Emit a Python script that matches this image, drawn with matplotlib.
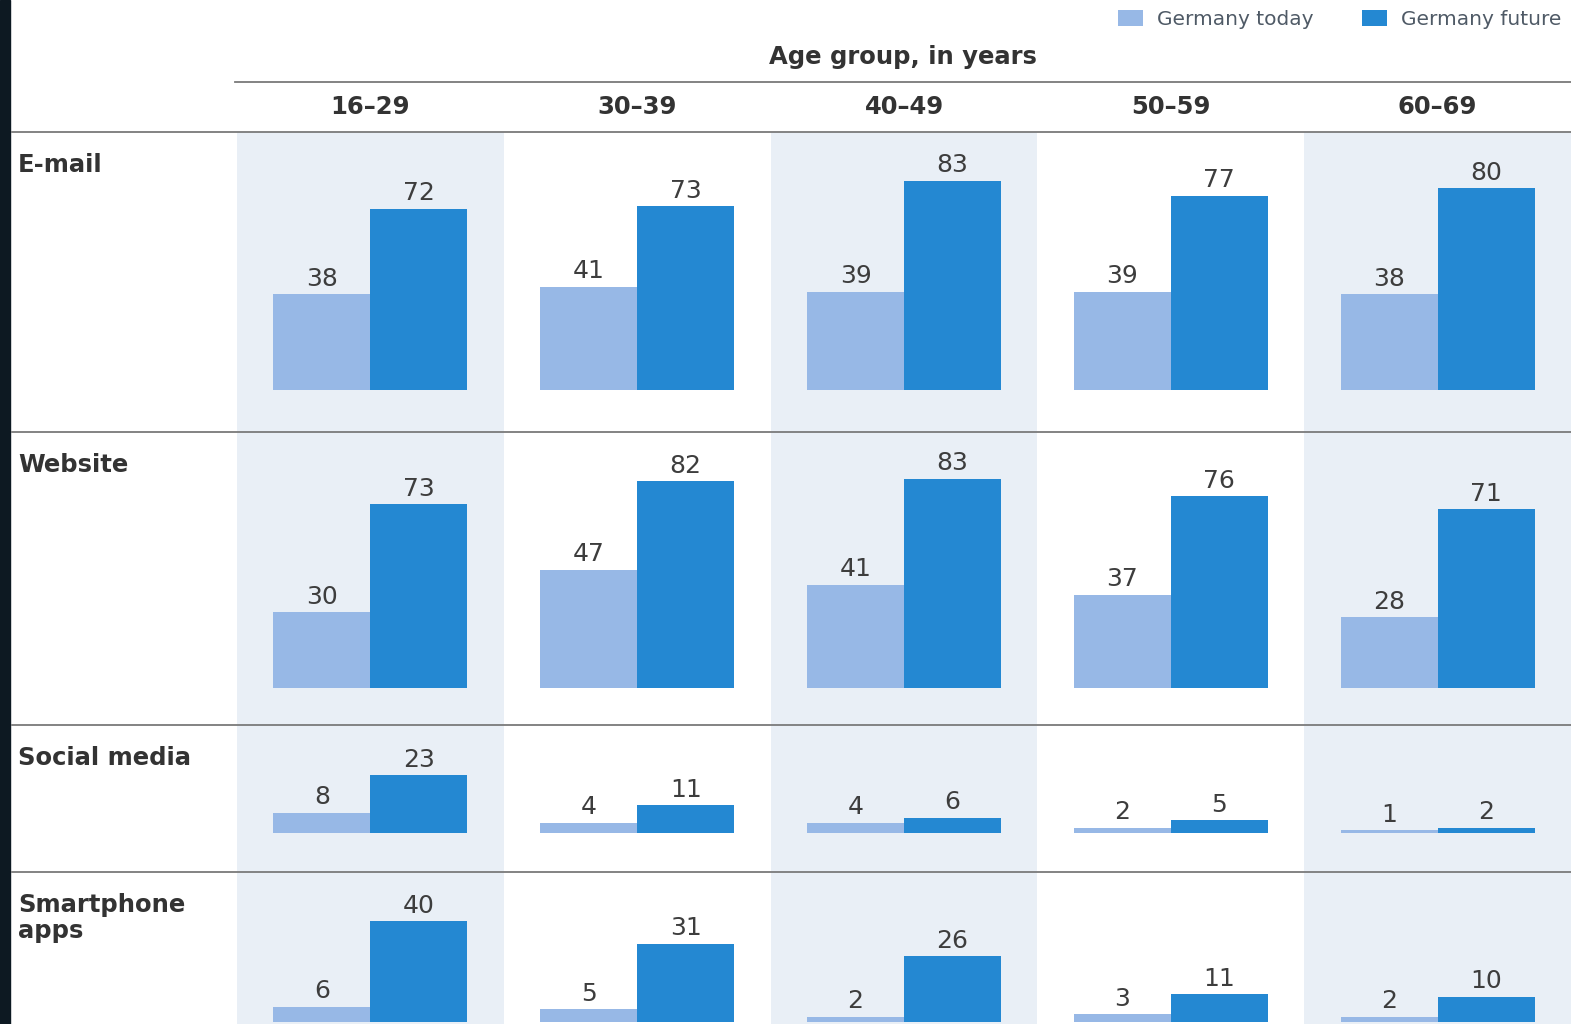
import matplotlib
matplotlib.use("Agg")
import matplotlib.pyplot as plt
from matplotlib.lines import Line2D
from matplotlib.patches import Rectangle
from matplotlib.transforms import blended_transform_factory

plt.rcParams["font.family"] = ["DejaVu Sans"]

# ---- data -------------------------------------------------------------
age_groups = ["16–29", "30–39", "40–49", "50–59", "60–69"]
channels = ["E-mail", "Website", "Social media", "Smartphone\napps"]
series_names = ["Germany today", "Germany future"]

email_today = [38, 41, 39, 39, 38]
email_future = [72, 73, 83, 77, 80]
website_today = [30, 47, 41, 37, 28]
website_future = [73, 82, 83, 76, 71]
social_today = [8, 4, 4, 2, 1]
social_future = [23, 11, 6, 5, 2]
apps_today = [6, 5, 2, 3, 2]
apps_future = [40, 31, 26, 11, 10]

today_values = [email_today, website_today, social_today, apps_today]
future_values = [email_future, website_future, social_future, apps_future]

# ---- layout (pixels) -------------------------------------------------
W, H = 1571, 1024
DPI = 100
PX_PER_UNIT = 2.52
# (top, bottom, baseline) of each row band
row_bands = [(132, 432, 390), (432, 725, 688), (725, 872, 833), (872, 1024, 1022)]
plot_left, plot_right = 237, 1571

LIGHT = "#97b8e6"
DARK = "#2488d2"
SHADE = "#e9eff6"
RULE = "#7a7a7a"
TEXT = "#333333"
VALUE = "#3d3d3d"


def fx(px):
    return px / W


def fy(py):
    return 1 - py / H


fig = plt.figure(figsize=(W / DPI, H / DPI), dpi=DPI)
fig.patch.set_facecolor("white")

x = list(range(len(age_groups)))
bar_w = 97 / ((plot_right - plot_left) / len(age_groups))

axes = []
for r, (top, bottom, base) in enumerate(row_bands):
    ax = fig.add_axes([fx(plot_left), fy(bottom), fx(plot_right - plot_left),
                       (bottom - top) / H])
    ax.set_xlim(-0.5, len(age_groups) - 0.5)
    ax.set_ylim(-(bottom - base) / PX_PER_UNIT, (base - top) / PX_PER_UNIT)
    ax.axis("off")
    for i in range(0, len(age_groups), 2):
        ax.axvspan(i - 0.5, i + 0.5, color=SHADE, lw=0, zorder=0)
    b1 = ax.bar([xi - bar_w / 2 for xi in x], today_values[r], width=bar_w,
                color=LIGHT, zorder=2, label=series_names[0])
    b2 = ax.bar([xi + bar_w / 2 for xi in x], future_values[r], width=bar_w,
                color=DARK, zorder=2, label=series_names[1])
    for bars, vals in ((b1, today_values[r]), (b2, future_values[r])):
        for rect, v in zip(bars, vals):
            ax.annotate(f"{v}", (rect.get_x() + rect.get_width() / 2, v),
                        xytext=(0, 2.5), textcoords="offset points",
                        ha="center", va="bottom", fontsize=18, color=VALUE,
                        zorder=3)
    axes.append(ax)
    if r == 0:
        legend_handles = [b1, b2]

# dark strip on the left edge
fig.patches.append(Rectangle((0, 0), fx(10), 1, transform=fig.transFigure,
                             color="#0d1922", zorder=5))

# horizontal rules
fig.add_artist(Line2D([fx(235), fx(1571)], [fy(82), fy(82)], color=RULE,
                      lw=1.3, zorder=6))
for y in (132, 432, 725, 872):
    fig.add_artist(Line2D([fx(12), fx(1571)], [fy(y), fy(y)], color=RULE,
                          lw=1.3, zorder=6))

# headers
fig.text(fx(903), fy(57), "Age group, in years", ha="center", va="center",
         fontsize=17.5, fontweight="bold", color=TEXT)
tr = blended_transform_factory(axes[0].transData, fig.transFigure)
for i, g in enumerate(age_groups):
    fig.text(i, fy(107), g, transform=tr, ha="center", va="center",
             fontsize=17.5, fontweight="bold", color=TEXT)

# row labels
for (top, bottom, base), name in zip(row_bands, channels):
    fig.text(fx(18), fy(top + 21), name, ha="left", va="top", fontsize=17.5,
             fontweight="bold", color=TEXT, linespacing=1.1)

# legend
fig.legend(legend_handles, series_names, loc="upper left",
           bbox_to_anchor=(fx(1110), fy(2)), ncol=2, frameon=False,
           fontsize=14.5, handlelength=1.25, handleheight=0.85,
           handletextpad=0.7, columnspacing=2.4, labelcolor="#4f5a66",
           borderaxespad=0)

fig.savefig("out.png", dpi=DPI, facecolor="white")
